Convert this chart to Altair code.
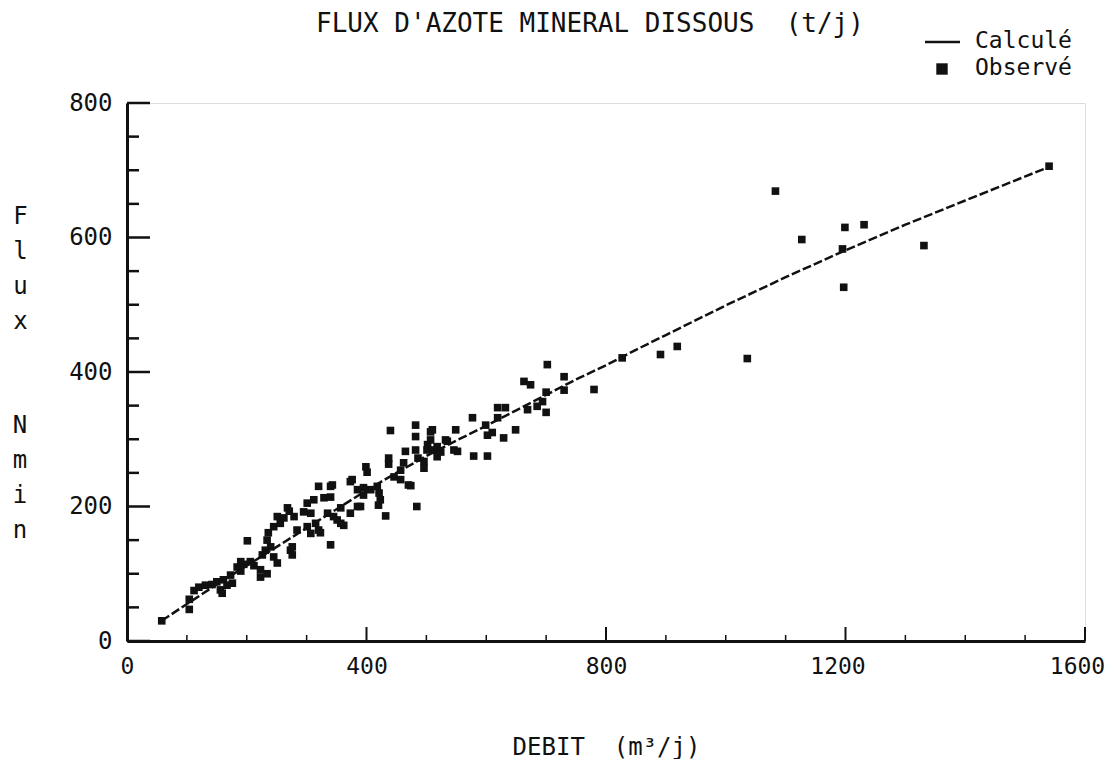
import altair as alt
import pandas as pd

# ---- observed points (débit m3/j, flux t/j) ----
debit = [58, 104, 104, 112, 120, 131, 142, 150, 156, 159, 161, 167, 173, 176, 184, 190, 190, 195,
         201, 206, 212, 223, 223, 226, 231, 234, 234, 236, 240, 245, 245, 251, 251,
         256, 262, 268, 271, 273, 276, 276, 279, 284, 295, 301, 301, 307, 307, 312, 315, 320,
         320, 323, 329, 335, 340, 340, 340, 343, 345, 351, 357, 357, 362, 373, 373, 376, 385,
         385, 390, 395, 395, 399, 401,
         407, 418, 420, 421, 423, 432, 437, 437, 440, 446, 457, 457, 462, 465, 470, 474, 482,
         482, 482, 484, 486, 496, 496, 501, 502, 507, 507, 510, 512, 518, 518, 524, 532, 535,
         546, 549, 552,
         577, 579, 599, 602, 602, 610, 619, 619, 629, 632, 649, 663, 669, 674, 685, 694, 700,
         700, 702, 730, 730, 780,
         827, 891, 919, 1036, 1083, 1127, 1195, 1197, 1199, 1231, 1331, 1540]
flux = [30, 47, 62, 75, 80, 83, 84, 88, 76, 71, 91, 83, 98, 86, 110, 118, 104, 114,
        149, 118, 112, 106, 95, 128, 135, 150, 100, 161, 140, 125, 170, 116, 185,
        175, 183, 198, 193, 135, 140, 128, 185, 165, 192, 205, 170, 190, 160, 210, 175, 230,
        165, 161, 213, 190, 230, 214, 143, 232, 185, 180, 198, 175, 172, 237, 190, 240, 225,
        200, 200, 217, 228, 259, 251,
        225, 230, 202, 220, 210, 186, 272, 263, 313, 244, 254, 240, 265, 282, 232, 231, 321,
        304, 284, 200, 272, 267, 257, 284, 292, 311, 299, 314, 284, 274, 289, 281, 299, 297,
        284, 314, 282,
        332, 275, 321, 306, 275, 310, 347, 332, 302, 347, 314, 386, 344, 381, 349, 356, 370,
        340, 411, 393, 373, 374,
        421, 426, 438, 420, 669, 597, 583, 526, 615, 619, 588, 706]

# ---- computed curve ----
calc_debit = [58, 100, 150, 200, 250, 300, 350, 400, 450, 500, 550, 600, 650, 700, 750,
              800, 850, 900, 950, 1000, 1100, 1200, 1300, 1400, 1540]
calc_flux = [30, 55, 84, 112, 140, 168, 196, 224, 250, 275, 298, 320, 343, 366, 389,
             410, 433, 455, 477, 499, 541, 581, 619, 655, 705]

# ---- axis ticks ----
x_major = [0, 400, 800, 1200, 1600]
x_minor = [100, 200, 300, 500, 600, 700, 900, 1000, 1100, 1300, 1400, 1500]
y_major = [0, 200, 400, 600, 800]
y_minor = [50, 100, 150, 250, 300, 350, 450, 500, 550, 650, 700, 750]

NB = "\u00a0"
title_text = "FLUX D'AZOTE MINERAL DISSOUS" + NB + " (t/j)"
x_title = "DEBIT" + NB + " (m³/j)"
y_title_1 = ["F", "l", "u", "x"]
y_title_2 = ["N", "m", "i", "n"]
legend_labels = ["Calculé", "Observé"]

W, H = 958, 538
FONT = "DejaVu Sans Mono"
INK = "#111111"

xscale = alt.Scale(domain=[0, 1600], nice=False, zero=False)
yscale = alt.Scale(domain=[0, 800], nice=False, zero=False)

obs = pd.DataFrame({"debit": debit, "flux": flux})
calc = pd.DataFrame({"debit": calc_debit, "flux": calc_flux})

points = alt.Chart(obs).mark_square(size=58, color=INK, opacity=1).encode(
    x=alt.X("debit:Q", scale=xscale,
            axis=alt.Axis(values=x_major, ticks=False, grid=False, domainWidth=3,
                          domainColor=INK, labelFont=FONT, labelFontSize=23,
                          labelColor=INK, labelPadding=14, labelFlush=False,
                          labelOffset=alt.condition("datum.value >= 1200",
                                                    alt.value(-8), alt.value(0)),
                          labelOverlap=False, format="d",
                          title=x_title, titleFont=FONT, titleFontSize=24,
                          titleFontWeight="normal", titleColor=INK, titlePadding=57)),
    y=alt.Y("flux:Q", scale=yscale,
            axis=alt.Axis(values=y_major, ticks=False, grid=False, domainWidth=3,
                          domainColor=INK, labelFont=FONT, labelFontSize=24,
                          labelColor=INK, labelPadding=15, labelFlush=False,
                          labelOverlap=False, format="d",
                          title=y_title_1, titleFont=FONT, titleFontSize=24,
                          titleFontWeight="normal", titleColor=INK, titleAngle=0,
                          titleAlign="center", titleBaseline="top", titleX=-107,
                          titleY=101, titleLineHeight=35)),
)

line = alt.Chart(calc).mark_line(color=INK, strokeWidth=2.5, strokeDash=[9, 3]).encode(
    x=alt.X("debit:Q", scale=xscale), y=alt.Y("flux:Q", scale=yscale))

xt_major = alt.Chart(pd.DataFrame({"debit": x_major})).mark_rule(color=INK, strokeWidth=2).encode(
    x=alt.X("debit:Q", scale=xscale), y=alt.value(H), y2=alt.value(H - 14))
xt_minor = alt.Chart(pd.DataFrame({"debit": x_minor})).mark_rule(color=INK, strokeWidth=1.5).encode(
    x=alt.X("debit:Q", scale=xscale), y=alt.value(H), y2=alt.value(H - 6))
yt_major = alt.Chart(pd.DataFrame({"flux": y_major})).mark_rule(color=INK, strokeWidth=2.5).encode(
    y=alt.Y("flux:Q", scale=yscale), x=alt.value(0), x2=alt.value(23))
yt_minor = alt.Chart(pd.DataFrame({"flux": y_minor})).mark_rule(color=INK, strokeWidth=2.5).encode(
    y=alt.Y("flux:Q", scale=yscale), x=alt.value(0), x2=alt.value(12))

one = pd.DataFrame({"k": [0]})
y_title_mark = alt.Chart(one).mark_text(align="center", baseline="top", font=FONT,
                                        fontSize=24, color=INK, lineHeight=35).encode(
    x=alt.value(-107), y=alt.value(311), text=alt.value(y_title_2))
title_mark = alt.Chart(one).mark_text(align="center", baseline="middle", font=FONT,
                                      fontSize=26, color=INK).encode(
    x=alt.value(463), y=alt.value(-79), text=alt.value(title_text))
leg_line = alt.Chart(one).mark_rule(color=INK, strokeWidth=2.5).encode(
    x=alt.value(798), x2=alt.value(833), y=alt.value(-61))
leg_square = alt.Chart(one).mark_square(size=130, color=INK, opacity=1).encode(
    x=alt.value(815), y=alt.value(-34))
leg_t1 = alt.Chart(one).mark_text(align="left", baseline="middle", font=FONT,
                                  fontSize=23, color=INK).encode(
    x=alt.value(848), y=alt.value(-62), text=alt.value(legend_labels[0]))
leg_t2 = alt.Chart(one).mark_text(align="left", baseline="middle", font=FONT,
                                  fontSize=23, color=INK).encode(
    x=alt.value(848), y=alt.value(-35), text=alt.value(legend_labels[1]))

chart = alt.layer(points, line, xt_major, xt_minor, yt_major, yt_minor,
                  y_title_mark, title_mark, leg_line, leg_square, leg_t1, leg_t2).properties(
    width=W, height=H,
    padding={"left": 119, "top": 95, "right": 21, "bottom": 118},
    autosize=alt.AutoSizeParams(type="none"),
).configure_view(stroke=None).configure(background="white")

chart.save("out.html", embed_options={"renderer": "svg", "actions": False})
